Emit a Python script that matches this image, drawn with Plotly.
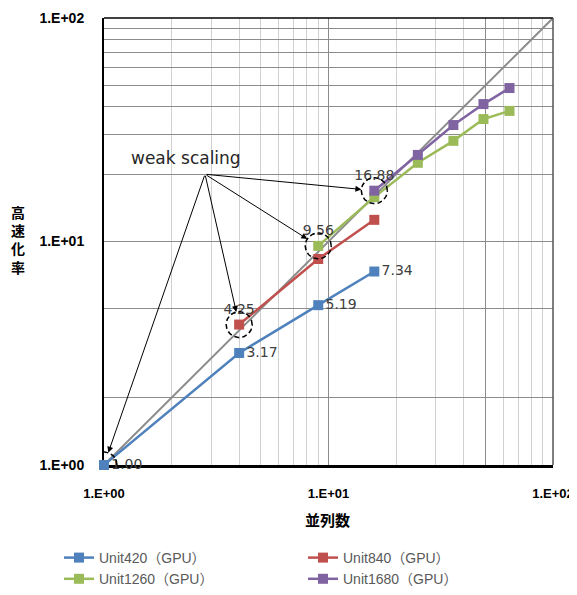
import numpy as np
import plotly.graph_objects as go

# ---------------- data ----------------
ideal_x = [1, 100]
ideal_y = [1, 100]

u420_x = [1, 4, 9, 16]
u420_y = [1.00, 3.17, 5.19, 7.34]
u840_x = [4, 9, 16]
u840_y = [4.25, 8.35, 12.5]
u1260_x = [9, 16, 25, 36, 49, 64]
u1260_y = [9.56, 15.8, 22.5, 28.2, 35.3, 38.4]
u1680_x = [16, 25, 36, 49, 64]
u1680_y = [16.88, 24.4, 33.2, 41.2, 48.6]

series_names = ["Unit420（GPU）", "Unit840（GPU）", "Unit1260（GPU）", "Unit1680（GPU）"]
series_colors = ["#4F81BD", "#C0504D", "#9BBB59", "#8064A2"]

x_tick_vals = [1, 10, 50, 100]
x_tick_text = ["1.E+00", "1.E+01", " ", "1.E+02"]
y_tick_vals = [1, 10, 100]
y_tick_text = ["1.E+00", "1.E+01", "1.E+02"]
x_minor_vals = [2, 3, 4, 5, 6, 7, 8, 9, 20, 30, 40, 60, 70, 80, 90]
y_minor_vals = [2, 5, 20, 30, 40, 50, 60, 70, 80, 90]

annot_text = "weak scaling"
x_title = "並列数"
y_title = "高速化率"

# ---------------- layout geometry (window pixels; page body has 8px margin) ----------------
BODY = 8
PL, PT, PW, PH = 104, 18, 449, 447
W, H = 577, 595


def px2paper(px, py):
    return (px - PL) / PW, (PT + PH - py) / PH


# ---------------- figure ----------------
fig = go.Figure()

fig.add_trace(go.Scatter(x=ideal_x, y=ideal_y, mode="lines",
                         line=dict(color="#8c8c8c", width=2),
                         showlegend=False, hoverinfo="skip"))

all_series = [(u420_x, u420_y), (u840_x, u840_y), (u1260_x, u1260_y), (u1680_x, u1680_y)]
label_font = dict(family="DejaVu Sans", size=14, color="#404040")

for i, ((xs, ys), name, col) in enumerate(zip(all_series, series_names, series_colors)):
    if i == 0:
        texts = [f"{v:.2f}" for v in ys]
        pos = "middle right"
    else:
        texts = [f"{ys[0]:.2f}"] + [""] * (len(ys) - 1)
        pos = "top center"
    fig.add_trace(go.Scatter(
        x=xs, y=ys, name=name, mode="lines+markers+text",
        line=dict(color=col, width=2.5),
        marker=dict(symbol="square", size=10, color=col),
        text=texts, textposition=pos, textfont=label_font,
        cliponaxis=False,
    ))

# dashed circles + arrows at weak-scaling points (first point of each series)
r = 13 / 224.5
theta = np.linspace(0, 2 * np.pi, 97)
tail_x, tail_y = 0.450, 1.301
for xs, ys in all_series:
    cx, cy = np.log10(xs[0]), np.log10(ys[0])
    fig.add_trace(go.Scatter(
        x=10 ** (cx + r * np.cos(theta)), y=10 ** (cy + r * np.sin(theta)),
        mode="lines", line=dict(color="black", width=1.5, dash="5px,3px"),
        showlegend=False, hoverinfo="skip", cliponaxis=False))
    fig.add_annotation(x=cx, y=cy, ax=tail_x, ay=tail_y, axref="x", ayref="y",
                       xref="x", yref="y", text="", showarrow=True,
                       arrowhead=2, arrowsize=1.2, arrowwidth=1, arrowcolor="black",
                       standoff=13, font=dict(size=1, color="rgba(0,0,0,0)"))

fig.add_annotation(x=0.365, y=1.374, xref="x", yref="y", text=annot_text,
                   showarrow=False, font=dict(family="DejaVu Sans", size=17, color="#262626"))

# axis titles
ax_, ay_ = px2paper(18, 240)
fig.add_annotation(x=ax_, y=ay_, xref="paper", yref="paper", xanchor="center", yanchor="middle",
                   text="<br>".join(f"<b>{c}</b>" for c in y_title), showarrow=False,
                   font=dict(family="Noto Sans CJK JP", size=14, color="black"))
tx, ty = px2paper(327, 519)
fig.add_annotation(x=tx, y=ty, xref="paper", yref="paper", xanchor="center", yanchor="middle",
                   text=f"<b>{x_title}</b>", showarrow=False,
                   font=dict(family="Noto Sans CJK JP", size=15, color="black"))

# frame: top and right borders
fig.add_shape(type="line", xref="paper", yref="paper", x0=0, x1=1, y0=1, y1=1,
              line=dict(color="black", width=1.5))
fig.add_shape(type="line", xref="paper", yref="paper", x0=1, x1=1, y0=0, y1=1,
              line=dict(color="#555555", width=1.5))

xtickfont = dict(family="Liberation Sans", size=13, color="black", weight="bold")
ytickfont = dict(family="Liberation Sans", size=14, color="black", weight="bold")

fig.update_xaxes(type="log", range=[0, 2], tickvals=x_tick_vals, ticktext=x_tick_text,
                 showgrid=True, gridcolor="#8c8c8c", gridwidth=1,
                 minor=dict(tickvals=x_minor_vals, showgrid=True, gridcolor="#d0d0d0", gridwidth=1),
                 showline=True, linecolor="black", linewidth=2.5, ticks="",
                 tickfont=xtickfont, ticklabelstandoff=15, zeroline=False,
                 layer="below traces", automargin=False)
fig.update_yaxes(type="log", range=[0, 2], tickvals=y_tick_vals, ticktext=y_tick_text,
                 showgrid=True, gridcolor="#8c8c8c", gridwidth=1,
                 minor=dict(tickvals=y_minor_vals, showgrid=True, gridcolor="#8c8c8c", gridwidth=1),
                 showline=True, linecolor="black", linewidth=2, ticks="",
                 tickfont=ytickfont, ticklabelstandoff=15, zeroline=False,
                 layer="below traces", automargin=False)

lx, ly = px2paper(59, 542)
fig.update_layout(
    width=W, height=H,
    margin=dict(l=PL - BODY, r=W - (PL - BODY) - PW, t=PT - BODY, b=H - (PT - BODY) - PH,
                autoexpand=False),
    paper_bgcolor="white", plot_bgcolor="white",
    legend=dict(orientation="h", x=lx, y=ly, xanchor="left", yanchor="top",
                entrywidth=199, font=dict(family="Liberation Sans, Noto Sans CJK JP", size=14, color="#595959"),
                bgcolor="rgba(0,0,0,0)"),
)

fig.write_html("out.html")
